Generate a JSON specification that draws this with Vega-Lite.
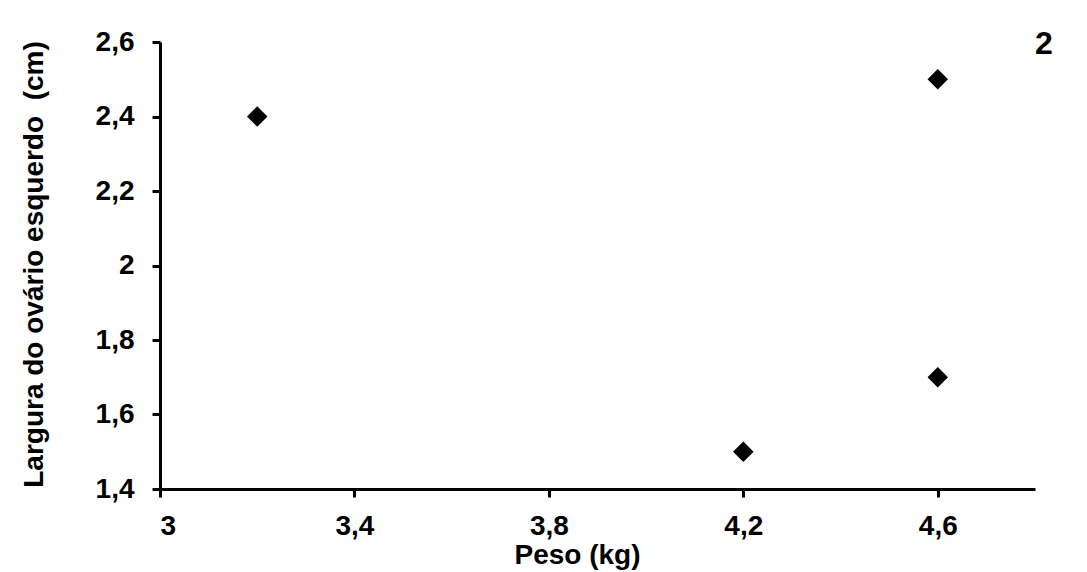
{
  "$schema": "https://vega.github.io/schema/vega-lite/v6.json",
  "width": 875,
  "height": 447,
  "autosize": {"type": "none"},
  "padding": {"left": 160, "top": 42, "right": 52, "bottom": 83},
  "background": "white",
  "config": {
    "view": {"stroke": null},
    "font": "Liberation Sans",
    "axis": {
      "grid": false,
      "domainColor": "black",
      "domainWidth": 3,
      "tickColor": "black",
      "tickWidth": 3,
      "tickSize": 8,
      "labelFont": "Liberation Sans",
      "labelFontWeight": "bold",
      "labelFontSize": 28,
      "labelColor": "black",
      "titleFont": "Liberation Sans",
      "titleFontWeight": "bold",
      "titleFontSize": 28,
      "titleColor": "black"
    }
  },
  "layer": [
    {
      "data": {
        "values": [
          {"peso": 3.2, "largura": 2.4},
          {"peso": 4.2, "largura": 1.5},
          {"peso": 4.6, "largura": 2.5},
          {"peso": 4.6, "largura": 1.7}
        ]
      },
      "mark": {"type": "point", "shape": "diamond", "filled": true, "color": "black", "size": 420, "opacity": 1},
      "encoding": {
        "x": {
          "field": "peso", "type": "quantitative",
          "scale": {"domain": [3, 4.8], "nice": false, "zero": false},
          "axis": {
            "title": "Peso (kg)",
            "values": [3, 3.4, 3.8, 4.2, 4.6],
            "labelExpr": "replace(format(datum.value, '~g'), '.', ',')",
            "labelPadding": 15,
            "titleX": 417,
            "titleY": 74,
            "titleBaseline": "alphabetic",
            "titleAlign": "center"
          }
        },
        "y": {
          "field": "largura", "type": "quantitative",
          "scale": {"domain": [1.4, 2.6], "nice": false, "zero": false},
          "axis": {
            "title": "Largura do ovário esquerdo\u00a0 (cm)",
            "values": [1.4, 1.6, 1.8, 2, 2.2, 2.4, 2.6],
            "labelExpr": "replace(format(datum.value, '~g'), '.', ',')",
            "labelPadding": 18,
            "titleX": -118,
            "titleY": 222,
            "titleBaseline": "alphabetic",
            "titleAlign": "center",
            "titleAngle": -90
          }
        }
      }
    },
    {
      "data": {"values": [{"peso": 4.8, "largura": 2.6, "label": "2"}]},
      "mark": {"type": "text", "align": "left", "baseline": "middle", "dy": 2, "fontSize": 32, "fontWeight": "bold", "color": "black", "clip": false},
      "encoding": {
        "x": {"field": "peso", "type": "quantitative"},
        "y": {"field": "largura", "type": "quantitative"},
        "text": {"field": "label"}
      }
    }
  ]
}
